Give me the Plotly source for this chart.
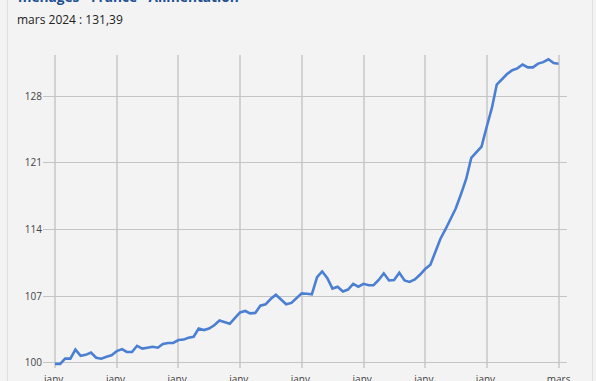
import pandas as pd
import plotly.graph_objects as go

# Monthly index, janv. 2016 -> mars 2024
months = pd.date_range("2016-01-01", "2024-03-01", freq="MS")

values_2016 = [99.9, 99.9, 100.45, 100.45, 101.4, 100.75, 100.85, 101.1, 100.55, 100.45, 100.65, 100.8]
values_2017 = [101.25, 101.45, 101.15, 101.15, 101.8, 101.5, 101.6, 101.7, 101.6, 102.0, 102.1, 102.1]
values_2018 = [102.4, 102.45, 102.65, 102.75, 103.6, 103.45, 103.6, 103.95, 104.45, 104.3, 104.1, 104.7]
values_2019 = [105.3, 105.45, 105.2, 105.25, 106.0, 106.15, 106.7, 107.15, 106.65, 106.15, 106.3, 106.75]
values_2020 = [107.3, 107.25, 107.2, 109.0, 109.6, 108.9, 107.8, 108.0, 107.5, 107.7, 108.3, 108.0]
values_2021 = [108.3, 108.15, 108.15, 108.7, 109.4, 108.65, 108.7, 109.45, 108.65, 108.5, 108.75, 109.25]
values_2022 = [109.85, 110.3, 111.6, 113.0, 114.0, 115.1, 116.2, 117.7, 119.3, 121.5, 122.1, 122.7]
values_2023 = [124.8, 126.8, 129.2, 129.8, 130.3, 130.7, 130.9, 131.3, 131.0, 131.0, 131.4, 131.55]
values_2024 = [131.85, 131.45, 131.39]

values = (values_2016 + values_2017 + values_2018 + values_2019 + values_2020
          + values_2021 + values_2022 + values_2023 + values_2024)

x_tick_dates = ["2016-01-01", "2017-01-01", "2018-01-01", "2019-01-01", "2020-01-01",
                "2021-01-01", "2022-01-01", "2023-01-01", "2024-03-01"]
x_tick_labels = ["janv.", "janv.", "janv.", "janv.", "janv.", "janv.", "janv.", "janv.", "mars"]
y_ticks = [100, 107, 114, 121, 128]

title_text = "ménages - France - Alimentation"
subtitle_text = "mars 2024 : 131,39"

fig = go.Figure()
fig.add_trace(go.Scatter(
    x=months, y=values, mode="lines",
    line=dict(color="#4a7fd3", width=2.6),
    hoverinfo="x+y",
))

# plot area: x 43..567, y 55..368 px
L, R, T, B = 43, 29, 55, 13
W, H = 596, 381
pw, ph = W - L - R, H - T - B

def px_x(p):
    return (p - L) / pw

def px_y(p):
    return 1 - (p - T) / ph

fig.update_layout(
    width=W, height=H,
    margin=dict(l=L, r=R, t=T, b=B, autoexpand=False),
    paper_bgcolor="#f3f3f3",
    plot_bgcolor="#f3f3f3",
    showlegend=False,
    font=dict(family="Open Sans", color="#444"),
    xaxis=dict(
        range=["2015-10-22", "2024-04-20"],
        tickvals=x_tick_dates, ticktext=x_tick_labels,
        showgrid=True, gridcolor="#d2d2d2", gridwidth=1.6,
        zeroline=False, showline=False, ticks="",
        ticklabelstandoff=4,
        tickfont=dict(size=10, color="#444"),
        automargin=False,
    ),
    yaxis=dict(
        range=[99.47, 132.3],
        tickvals=y_ticks,
        showgrid=True, gridcolor="#c4c4c4", gridwidth=1,
        zeroline=False, showline=False, ticks="",
        tickfont=dict(size=10, color="#444"),
        automargin=False,
    ),
    shapes=[
        dict(type="line", xref="paper", yref="paper",
             x0=px_x(7.5), x1=px_x(7.5), y0=px_y(-5), y1=px_y(390),
             line=dict(color="#e0e0e0", width=1), layer="below"),
        dict(type="line", xref="paper", yref="paper",
             x0=px_x(592.5), x1=px_x(592.5), y0=px_y(-5), y1=px_y(390),
             line=dict(color="#e0e0e0", width=1), layer="below"),
    ],
    annotations=[
        dict(text="<b>" + title_text + "</b>", xref="paper", yref="paper",
             x=px_x(16), y=px_y(8.2), xanchor="left", yanchor="bottom",
             showarrow=False, font=dict(size=13.7, color="#1d4f91", family="Open Sans")),
        dict(text=subtitle_text, xref="paper", yref="paper",
             x=px_x(15), y=px_y(19), xanchor="left", yanchor="middle",
             showarrow=False, font=dict(size=12, color="#222", family="Open Sans")),
    ],
)

fig.write_html(
    "out.html",
    config={"displayModeBar": False},
    post_script="document.body.style.margin='0';document.body.style.background='#f3f3f3';document.body.style.overflow='hidden';",
)
